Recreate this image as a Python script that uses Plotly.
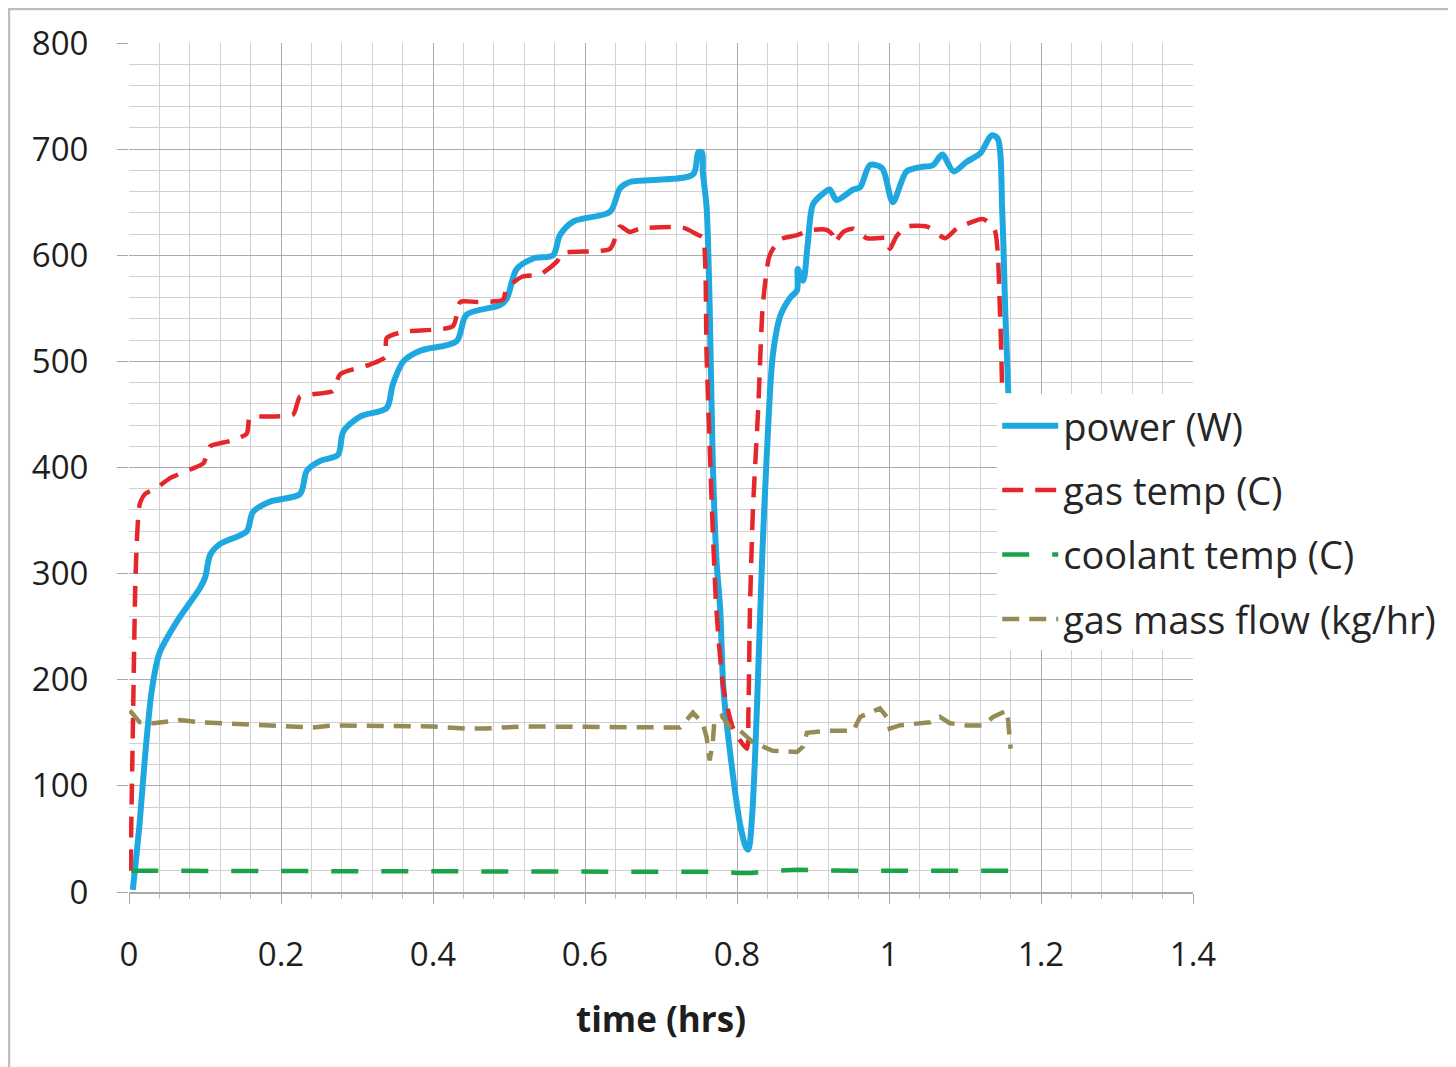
import plotly.graph_objects as go

# ---------------- data ----------------
power_t = [0.005, 0.014, 0.021, 0.030, 0.040, 0.064, 0.093, 0.100, 0.107, 0.120,
           0.155, 0.163, 0.186, 0.225, 0.234, 0.251, 0.275, 0.282, 0.304, 0.339,
           0.347, 0.361, 0.383, 0.431, 0.444, 0.488, 0.497, 0.510, 0.532, 0.558,
           0.567, 0.585, 0.633, 0.646, 0.659, 0.742, 0.749, 0.754, 0.755, 0.760,
           0.764, 0.768, 0.773, 0.778, 0.782, 0.791, 0.804, 0.812, 0.815, 0.820,
           0.826, 0.833, 0.839, 0.847, 0.857, 0.870, 0.879, 0.880, 0.887, 0.893,
           0.900, 0.913, 0.922, 0.931, 0.953, 0.962, 0.975, 0.991, 1.005, 1.023,
           1.041, 1.058, 1.070, 1.085, 1.102, 1.120, 1.135, 1.143, 1.149, 1.153,
           1.157]
power_w = [2, 65, 127, 190, 225, 256, 286, 296, 318, 328,
           340, 358, 368, 375, 397, 406, 412, 434, 448, 456,
           478, 500, 510, 519, 544, 553, 559, 587, 597, 600,
           619, 632, 641, 663, 669, 676, 697, 697, 679, 645,
           553, 409, 313, 265, 193, 131, 64, 42, 40, 73,
           169, 313, 409, 505, 543, 560, 567, 587, 576, 610,
           648, 658, 662, 652, 662, 664, 685, 682, 650, 679,
           683, 685, 695, 679, 688, 696, 713, 710, 641, 547,
           470]

gas_t = [0.002, 0.005, 0.008, 0.010, 0.014, 0.021, 0.037, 0.054, 0.080, 0.098,
         0.107, 0.133, 0.155, 0.159, 0.186, 0.216, 0.225, 0.242, 0.268, 0.278,
         0.317, 0.337, 0.339, 0.361, 0.426, 0.436, 0.458, 0.492, 0.497, 0.518,
         0.541, 0.563, 0.571, 0.633, 0.646, 0.659, 0.672, 0.729, 0.749, 0.755,
         0.760, 0.767, 0.773, 0.782, 0.795, 0.813, 0.815, 0.817, 0.821, 0.828,
         0.834, 0.843, 0.857, 0.879, 0.900, 0.918, 0.926, 0.928, 0.940, 0.953,
         0.971, 0.997, 1.001, 1.010, 1.023, 1.050, 1.074, 1.089, 1.124, 1.139,
         1.146, 1.149]
gas_temp = [20, 150, 280, 325, 365, 375, 381, 390, 398, 404,
            420, 425, 432, 447, 448, 450, 467, 469, 472, 488,
            497, 504, 522, 528, 533, 556, 556, 558, 569, 580,
            582, 594, 602, 606, 627, 622, 625, 626, 619, 617,
            505, 361, 265, 193, 154, 135, 169, 265, 361, 457,
            553, 600, 615, 619, 624, 624, 619, 612, 622, 625,
            616, 616, 606, 618, 627, 627, 616, 625, 634, 624,
            547, 470]

cool_t = [0.003, 0.1, 0.2, 0.4, 0.6, 0.75, 0.78, 0.8, 0.82, 0.85, 0.88, 0.95, 1.0, 1.1, 1.16]
cool_temp = [20, 20, 20, 20, 20, 20, 19, 18, 18, 20, 21, 20, 20, 20, 20]

flow_t = [0.001, 0.014, 0.032, 0.067, 0.093, 0.150, 0.225, 0.242, 0.268, 0.400,
          0.444, 0.466, 0.520, 0.620, 0.725, 0.742, 0.755, 0.760, 0.764, 0.768,
          0.770, 0.780, 0.791, 0.804, 0.821, 0.847, 0.879, 0.887, 0.892, 0.922,
          0.953, 0.962, 0.975, 0.988, 0.997, 1.001, 1.014, 1.037, 1.054, 1.067,
          1.080, 1.102, 1.124, 1.137, 1.155, 1.157, 1.159, 1.160]
flow_kg = [171, 160, 159, 162, 160, 158, 156, 155, 157, 156,
           154, 154, 156, 155, 155, 169, 159, 146, 124, 140,
           159, 166, 155, 152, 141, 133, 132, 137, 150, 152,
           152, 165, 169, 173, 165, 154, 157, 159, 160, 165,
           159, 157, 157, 165, 171, 160, 146, 135]

x_ticks = [0, 0.2, 0.4, 0.6, 0.8, 1, 1.2, 1.4]
x_tick_text = ["0", "0.2", "0.4", "0.6", "0.8", "1", "1.2", "1.4"]
y_ticks = [0, 100, 200, 300, 400, 500, 600, 700, 800]

# ---------------- figure ----------------
FONT = "Open Sans"
fig = go.Figure()

fig.add_trace(go.Scatter(x=power_t, y=power_w, mode="lines", name="power (W)",
                         legendgroup="a",
                         line=dict(color="#1FA8E0", width=6, shape="spline", smoothing=0.8)))
fig.add_trace(go.Scatter(x=gas_t, y=gas_temp, mode="lines", name="gas temp (C)",
                         legendgroup="b",
                         line=dict(color="#E5262B", width=4.5, dash="21px,12px",
                                   shape="spline", smoothing=0.6)))
fig.add_trace(go.Scatter(x=cool_t, y=cool_temp, mode="lines", name="coolant temp (C)",
                         legendgroup="c",
                         line=dict(color="#1BA349", width=4.5, dash="27px,23px")))
fig.add_trace(go.Scatter(x=flow_t, y=flow_kg, mode="lines", name="gas mass flow (kg/hr)",
                         legendgroup="d",
                         line=dict(color="#968B55", width=4.5, dash="17px,10px")))

fig.update_layout(
    width=1448, height=1059,
    margin=dict(l=121, r=263, t=33, b=175),
    paper_bgcolor="white", plot_bgcolor="white",
    font=dict(family=FONT, color="#1e1e1e"),
    showlegend=True,
    legend=dict(x=0.816, y=0.586, xanchor="left", yanchor="top",
                bgcolor="white", borderwidth=0,
                font=dict(family=FONT, size=38, color="#262626"),
                tracegroupgap=12, itemwidth=56),
    xaxis=dict(range=[0, 1.4], tickvals=x_ticks, ticktext=x_tick_text,
               showgrid=True, gridcolor="#ababab", gridwidth=1.2,
               minor=dict(dtick=0.04, tick0=0, showgrid=True, gridcolor="#d0d0d0",
                          gridwidth=1, ticks="outside", ticklen=5, tickcolor="#c0c0c0"),
               ticks="outside", ticklen=10, tickcolor="#a8a8a8",
               showline=True, linecolor="#a8a8a8", linewidth=1.5,
               zeroline=False, ticklabelstandoff=23,
               tickfont=dict(family=FONT, size=33, color="#1e1e1e"),
               title=dict(text="<b>time (hrs)</b>", standoff=32,
                          font=dict(family=FONT, size=35, color="#1e1e1e"))),
    yaxis=dict(range=[0, 800], tickvals=y_ticks,
               showgrid=True, gridcolor="#ababab", gridwidth=1.2,
               minor=dict(dtick=20, tick0=0, showgrid=True, gridcolor="#d0d0d0",
                          gridwidth=1),
               ticks="outside", ticklen=11, tickcolor="#a8a8a8",
               showline=False, zeroline=False, ticklabelstandoff=22,
               tickfont=dict(family=FONT, size=33, color="#1e1e1e")),
    shapes=[dict(type="rect", xref="paper", yref="paper",
                 x0=-0.1128, x1=1.40, y0=-0.25, y1=1.040,
                 line=dict(color="#bdbdbd", width=2.5), fillcolor="rgba(0,0,0,0)",
                 layer="below")],
)

fig.write_html("out.html")
